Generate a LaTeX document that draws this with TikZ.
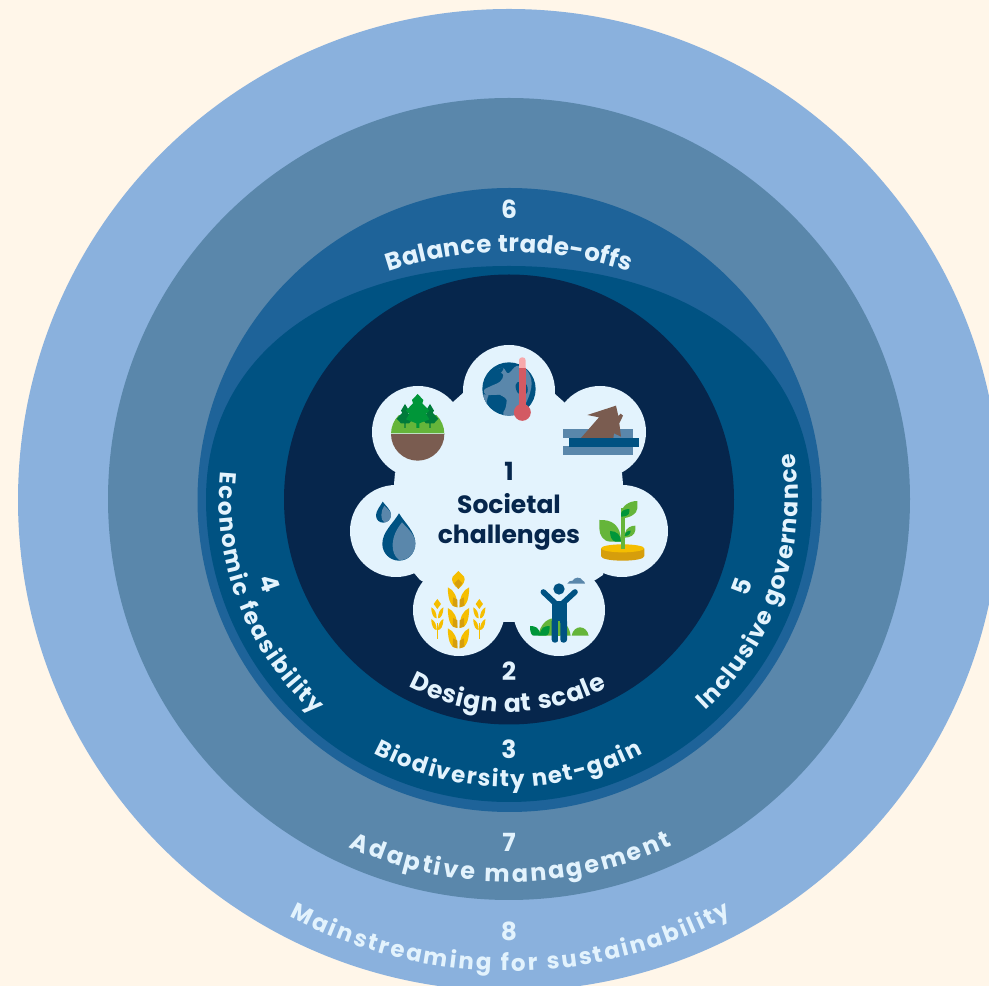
\documentclass[tikz,border=0pt]{standalone}
\usepackage{fontspec}
\setmainfont{Poppins}
\usetikzlibrary{decorations.text}
\definecolor{bg}{HTML}{FFF6E9}
\definecolor{ringeight}{HTML}{8AB1DD}
\definecolor{ringseven}{HTML}{5A87AB}
\definecolor{ringsix}{HTML}{1E6399}
\definecolor{teal}{HTML}{005282}
\definecolor{navy}{HTML}{06264C}
\definecolor{pale}{HTML}{E3F3FD}
\definecolor{brown}{HTML}{7A5C50}
\definecolor{leaf}{HTML}{65B53A}
\definecolor{leafdark}{HTML}{009639}
\definecolor{pine}{HTML}{007B3A}
\definecolor{gold}{HTML}{F5BE00}
\definecolor{golddark}{HTML}{D69E0C}
\definecolor{therm}{HTML}{D35A63}
\definecolor{thermlight}{HTML}{F7A9AC}
\newcommand{\setsize}[1]{\bfseries\fontsize{#1}{#1}\selectfont}
% centre x, centre y, radius, start, end, size, text
\newcommand{\arclabel}[7]{%
  \path[decorate,decoration={text along path,text color=pale,text align=fit to path,
    text={|\setsize{#6}|#7}}]
    (#1,#2) ++(#4:#3) arc[start angle=#4,end angle=#5,radius=#3];}
\tikzset{
  num/.style={text=pale,font=\setsize{25},inner sep=0pt},
  numdark/.style={text=navy,font=\setsize{25},inner sep=0pt},
  zoomone/.style={shift={(340,646)},x=.33333pt,y=-.33333pt},
  zoomtwo/.style={shift={(340,496)},x=.33333pt,y=-.33333pt},
}
\newcommand{\wheattier}[4]{% centre x, top y, half width, height
  \fill[gold] (#1-#3*.11,#2+#4) .. controls (#1-#3*.6,#2+#4) and (#1-#3,#2+#4*.75) .. (#1-#3,#2)
     .. controls (#1-#3*.4,#2+#4*.15) and (#1-#3*.11,#2+#4*.45) .. cycle;
  \fill[gold] (#1+#3*.11,#2+#4) .. controls (#1+#3*.6,#2+#4) and (#1+#3,#2+#4*.75) .. (#1+#3,#2)
     .. controls (#1+#3*.4,#2+#4*.15) and (#1+#3*.11,#2+#4*.45) .. cycle;
  \fill[golddark] (#1-#3*.11,#2+#4) -- (#1-#3*.55,#2+#4*.92) -- (#1-#3*.5,#2+#4*.5) -- (#1-#3*.11,#2+#4*.62) -- cycle;
  \fill[golddark] (#1+#3*.11,#2+#4) -- (#1+#3*.55,#2+#4*.92) -- (#1+#3*.5,#2+#4*.5) -- (#1+#3*.11,#2+#4*.62) -- cycle;
}
\begin{document}
\begin{tikzpicture}[x=1pt,y=1pt]
\useasboundingbox (0,0) rectangle (989,986);
\clip (0,0) rectangle (989,986);
\fill[bg] (0,0) rectangle (989,986);
% rings
\fill[ringeight] (509,486) circle[radius=491];
\fill[ringseven] (509,487) circle[radius=401];
\fill[ringsix] (509.5,486) circle[radius=312];
\fill[teal] (206,487) .. controls (206,634) and (335,720) .. (509,720)
   .. controls (683,720) and (812,634) .. (812,487)
   arc[start angle=0,end angle=-180,radius=303] -- cycle;
\fill[navy] (509,486.5) circle[radius=225];
% blob
\fill[pale] (555,592) -- (564,584) -- (622,513) -- (623,502) -- (603,411) -- (597,407)
  -- (515,364) -- (503,364) -- (420,406) -- (414,413) -- (394,502) -- (395,513)
  -- (453,584) -- (463,593) -- cycle;
\foreach \p in {(509,595),(600,554),(418,554),(396,455),(622,455),(459,376),(559,376)}
  \fill[pale] \p circle[radius=46];
% --- icons, top half
\begin{scope}[zoomone]
  % trees
  \begin{scope}
    \clip (233,282) circle[radius=80];
    \fill[leaf] (140,225) rectangle (330,282);
    \fill[brown] (140,282) rectangle (330,370);
    \fill[pale!70!leaf] (140,279) rectangle (330,283);
  \end{scope}
  \foreach \c in {195,270}{
    \fill[pine] (\c,192) -- (\c+12,212) -- (\c+8,218) -- (\c+25,236) -- (\c+12,250) -- (\c+2,250)
      -- (\c+2,264) -- (\c-2,264) -- (\c-2,250) -- (\c-12,250) -- (\c-25,236) -- (\c-8,218) -- (\c-12,212) -- cycle;
  }
  \fill[leafdark] (233,162) -- (250,180) -- (247,190) -- (268,212) -- (258,222) -- (268,238)
     -- (238,250) -- (238,264) -- (229,264) -- (229,250) -- (198,238) -- (208,222) -- (198,212) -- (219,190) -- (216,180) -- cycle;
  % globe
  \fill[teal] (507,147) circle[radius=80];
  \begin{scope}
    \clip (507,147) circle[radius=80];
    \fill[ringseven] plot[smooth cycle,tension=.6] coordinates {(472,90) (490,84) (505,100) (530,78) (560,90) (575,130) (560,185) (530,225) (490,225) (500,180) (470,165) (440,165) (432,150) (460,135) (480,125) (490,105)};
    \fill[ringseven] plot[smooth cycle,tension=.7] coordinates {(425,170) (445,165) (440,185) (452,215) (470,225) (440,215)};
    \fill[teal] plot[smooth cycle,tension=.7] coordinates {(455,175) (480,165) (498,185) (490,215) (470,210)};
    \fill[teal] plot[smooth cycle,tension=.7] coordinates {(527,135) (540,125) (560,135) (560,160) (535,160)};
    \fill[teal] plot[smooth cycle,tension=.7] coordinates {(470,90) (490,84) (480,100)};
  \end{scope}
  % thermometer
  \fill[thermlight,rounded corners=3] (537,52) rectangle (557,110);
  \fill[therm] (537,85) rectangle (557,200);
  \fill[therm] (547,217) circle[radius=25.5];
  % house in water
  \fill[ringseven] (669,267) rectangle (879,295);
  \fill[ringseven] (669,318) rectangle (879,345);
  \fill[brown] (722,295) -- (777,232) -- (742,225) -- (828,197) -- (835,228) -- (842,221) -- (849,227) -- (838,250) -- (843,290) -- (822,280) -- (820,295) -- cycle;
  \fill[teal] (687,294) rectangle (897,320);
\end{scope}
% --- icons, bottom half
\begin{scope}[zoomtwo]
  % drops
  \fill[teal] (128,35) .. controls (120,50) and (108,62) .. (108,76)
     .. controls (108,90) and (118,98) .. (130,98) .. controls (143,98) and (153,88) .. (153,74)
     .. controls (153,60) and (138,48) .. cycle;
  \fill[ringseven] (133,47) .. controls (143,58) and (153,64) .. (153,74)
     .. controls (153,88) and (143,97) .. (133,97) .. controls (120,90) and (122,62) .. cycle;
  \fill[teal] (177,70) .. controls (160,100) and (127,125) .. (127,162)
     .. controls (127,190) and (150,212) .. (177,212) .. controls (205,212) and (226,190) .. (226,160)
     .. controls (226,125) and (195,100) .. cycle;
  \fill[ringseven] (186,97) .. controls (205,118) and (226,135) .. (226,160)
     .. controls (226,190) and (205,212) .. (177,210) .. controls (150,190) and (150,140) .. cycle;
  % sprout
  \fill[golddark] (783,176) -- (783,198) .. controls (783,207) and (812,212) .. (848,212)
     .. controls (884,212) and (913,207) .. (913,198) -- (913,176) -- cycle;
  \fill[gold] (848,175) ellipse[x radius=65,y radius=12];
  \fill[leaf] (843,55) rectangle (855,178);
  \fill[leaf] (843,72) .. controls (845,45) and (870,33) .. (892,33) -- (892,55)
     .. controls (892,70) and (870,85) .. (843,85) -- cycle;
  \fill[leaf] (778,90) .. controls (815,88) and (843,105) .. (843,155) -- (812,155)
     .. controls (790,155) and (778,135) .. (778,115) -- cycle;
  \fill[leaf] (855,130) .. controls (858,112) and (875,107) .. (886,107) -- (886,120)
     .. controls (885,135) and (870,143) .. (855,143) -- cycle;
  \fill[leafdark] (843,80) -- (843,70) .. controls (845,62) and (855,57) .. (868,57) -- (868,65)
     .. controls (868,75) and (858,80) .. cycle;
  \fill[leafdark] (810,123) .. controls (830,123) and (843,135) .. (843,155) -- (826,155)
     .. controls (815,152) and (810,140) .. cycle;
  \fill[leafdark] (854,138) .. controls (855,128) and (862,122) .. (872,122)
     .. controls (872,132) and (865,138) .. cycle;
  % wheat
  \fill[gold] (355,243) -- (372,260) .. controls (378,270) and (370,285) .. (355,297)
     .. controls (340,285) and (332,270) .. (338,260) -- cycle;
  \fill[golddark] (355,268) -- (367,280) -- (355,297) -- (343,280) -- cycle;
  \wheattier{355.5}{292}{32}{60}
  \wheattier{355.5}{354}{32}{60}
  \wheattier{355.5}{415}{32}{60}
  \foreach \c in {292,418}{
    \fill[gold] (\c-1.5,400) rectangle (\c+1.5,447);
    \fill[gold] (\c,327) -- (\c+11,342) -- (\c,357) -- (\c-11,342) -- cycle;
    \fill[gold] (\c-2,385) .. controls (\c-10,385) and (\c-18,375) .. (\c-18,352)
        .. controls (\c-8,358) and (\c-2,368) .. cycle;
    \fill[gold] (\c+2,385) .. controls (\c+10,385) and (\c+18,375) .. (\c+18,352)
        .. controls (\c+8,358) and (\c+2,368) .. cycle;
    \fill[gold] (\c-2,420) .. controls (\c-10,420) and (\c-18,410) .. (\c-18,387)
        .. controls (\c-8,393) and (\c-2,403) .. cycle;
    \fill[gold] (\c+2,420) .. controls (\c+10,420) and (\c+18,410) .. (\c+18,387)
        .. controls (\c+8,393) and (\c+2,403) .. cycle;
  }
  % person scene
  \fill[leaf] (595,437) .. controls (600,405) and (620,385) .. (642,385)
     .. controls (665,385) and (688,405) .. (692,437) -- cycle;
  \fill[leaf] (695,437) .. controls (698,420) and (710,412) .. (720,412)
     .. controls (733,412) and (743,422) .. (746,437) -- cycle;
  \fill[leafdark] (570,408) .. controls (585,408) and (600,412) .. (600,437) -- (582,437)
     .. controls (575,437) and (570,430) .. cycle;
  \fill[leafdark] (629,408) .. controls (614,408) and (600,412) .. (600,437) -- (617,437)
     .. controls (624,437) and (629,430) .. cycle;
  \fill[ringseven] (682,281) .. controls (684,274) and (692,272) .. (698,272)
     .. controls (702,262) and (722,258) .. (728,272) .. controls (732,273) and (735,277) .. (735,281) -- cycle;
  \fill[teal] (657,297) circle[radius=17];
  \draw[teal,line width=5.6pt,line cap=round,line join=round] (610,306) -- (648,342) -- (666,342) -- (705,306);
  \fill[teal] (636,335) rectangle (680,400);
  \fill[teal,rounded corners=3] (635,385) rectangle (655,458);
  \fill[teal,rounded corners=3] (661,385) rectangle (681,458);
  \fill[leaf] (655,393) rectangle (661,437);
  \fill[pale] (655,437) rectangle (661,458);
\end{scope}
% central text
\node[numdark] (n1) at (509,515) {1};
\node[text=navy,font=\setsize{25},inner sep=0pt] (t1a) at (509,482) {Societal};
\node[text=navy,font=\setsize{25},inner sep=0pt] (t1b) at (509,448) {challenges};
% numbers
\node[num] (n2) at (509,315) {2};
\node[num] (n3) at (509,237) {3};
\node[num] (n7) at (509,144) {7};
\node[num] (n8) at (509,55) {8};
\node[num] (n6) at (509,777) {6};
\node[num,rotate=-70.6] (n4) at (270,403) {4};
\node[num,rotate=69] (n5) at (742,399) {5};
% curved labels
\arclabel{509}{487}{213}{241.8}{297.5}{25}{Design at scale}
\arclabel{509}{487}{288}{241.9}{297.8}{23}{Biodiversity net-gain}
\arclabel{509}{487}{383}{245.3}{295.2}{24}{Adaptive management}
\arclabel{509}{487}{472}{242.3}{298.1}{23}{Mainstreaming for sustainability}
\arclabel{509}{354}{380}{108.5}{71.5}{24.5}{Balance trade-offs}
\arclabel{509}{487}{290}{174.6}{228}{23}{Economic feasibility}
\arclabel{509}{487}{289}{-47.1}{9.1}{23.5}{Inclusive governance}
\end{tikzpicture}
\end{document}
